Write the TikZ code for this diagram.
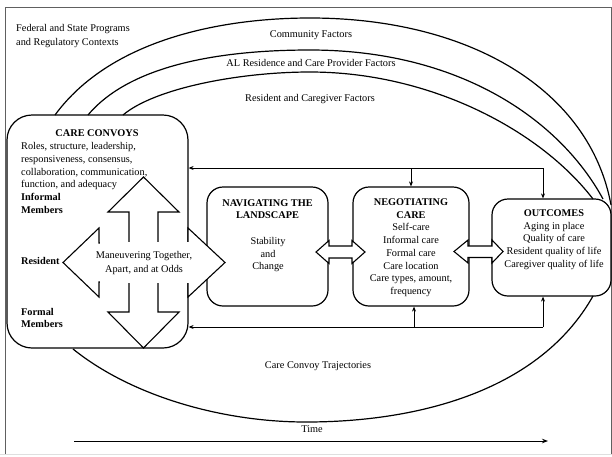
\documentclass[tikz,border=0pt]{standalone}
\usepackage{fontspec}
\setmainfont{Liberation Serif}
\usetikzlibrary{arrows.meta}
\begin{document}
\begin{tikzpicture}[x=1pt,y=-1pt,
  txt/.style={inner sep=0pt, anchor=base, font=\fontsize{10.3pt}{12.7pt}\selectfont},
  txtl/.style={txt, anchor=base west},
  hd/.style={txt, font=\fontsize{10.3pt}{12.7pt}\selectfont\bfseries},
  hdl/.style={hd, anchor=base west},
  panel/.style={draw, line width=1.2pt, rounded corners=16pt, inner sep=0pt},
  blockarrow/.style={draw, fill=white, line width=1.1pt, line join=miter},
  link/.style={line width=0.9pt, -{Stealth[length=5pt,width=4pt]}},
  arcline/.style={line width=1.2pt},
]
\useasboundingbox (0,0) rectangle (612,456);

% outer frame
\draw[gray!75!black, line width=0.8pt] (5,454) -- (5,7) -- (611,7) -- (611,454);
\draw[gray!25, line width=0.8pt] (0,454.5) -- (612,454.5);

% context labels
\node[txtl] (fed1) at (16,31.6) {Federal and State Programs};
\node[txtl] (fed2) at (16,45.6) {and Regulatory Contexts};
\node[txt] (comm) at (311,37.4) {Community Factors};
\node[txt] (alres) at (311,66.4) {AL Residence and Care Provider Factors};
\node[txt] (rescg) at (310,101.4) {Resident and Caregiver Factors};
\node[txt] (traj) at (318,368.4) {Care Convoy Trajectories};
\node[txt] (time) at (312,432.4) {Time};

% main panels
\node[panel, rounded corners=25pt, minimum width=181pt, minimum height=233pt] (cc) at (97.5,231.5) {};
\node[panel, minimum width=121pt, minimum height=119pt] (nav) at (267.5,246.5) {};
\node[panel, minimum width=116pt, minimum height=119pt] (neg) at (411,246.5) {};
\node[panel, minimum width=119pt, minimum height=97pt] (out) at (551.5,247.5) {};

% factor arcs from the care convoy panel to the outcomes panel
\coordinate (a1s) at (55,115);   \coordinate (a1e) at (611,205);
\coordinate (a2s) at (88,115);   \coordinate (a2e) at (603,199);
\coordinate (a3s) at (123,115);  \coordinate (a3e) at (593,199);
\draw[arcline] (a1s) .. controls (110,40) and (220,18) .. (310,18)
  .. controls (470,18) and (590,90) .. (a1e);
\draw[arcline] (a2s) .. controls (130,65) and (220,50) .. (310,50)
  .. controls (460,50) and (560,120) .. (a2e);
\draw[arcline] (a3s) .. controls (155,88) and (240,72) .. (310,72)
  .. controls (430,72) and (540,130) .. (a3e);

% trajectory curve
\coordinate (ts) at (73,349);
\coordinate (te) at (593,296);
\draw[arcline] (ts) .. controls (130,395) and (220,422) .. (306,422)
  .. controls (420,422) and (540,390) .. (te);

% time axis
\coordinate (t0) at (74,441);
\coordinate (t1) at (548,441);
\draw[line width=0.9pt, -{Stealth[length=6pt,width=4.5pt]}] (t0) -- (t1);

% feedback links
\coordinate (fbT) at (543,168);
\draw[link] (fbT) -- (fbT -| cc.east);
\draw[link] (fbT) -- (fbT |- out.north);
\draw[link] (fbT -| neg.north) -- (neg.north);
\coordinate (fbB) at (543,327);
\coordinate (fbBn) at (414,327);
\draw[link] (fbB) -- (fbB -| cc.east);
\draw[link] (fbB) -- (fbB |- out.south);
\draw[link] (fbBn) -- (fbBn |- neg.south);

% four-way block arrow inside the care convoy panel
\draw[blockarrow] (143.5,177) -- (179,212) -- (158,212) -- (158,243) -- (188,243)
  -- (188,228) -- (225,262.5) -- (188,297) -- (188,282) -- (158,282) -- (158,312)
  -- (179,312) -- (143.5,348) -- (108,312) -- (129,312) -- (129,282) -- (99,282)
  -- (99,297) -- (63,262.5) -- (99,228) -- (99,243) -- (129,243) -- (129,212)
  -- (108,212) -- cycle;
\node[fill=white, inner sep=0pt, minimum width=88.6pt, minimum height=40.2pt] (mvcover) at (144.3,262.5) {};
\node[txt] (mv1) at (144,258.6) {Maneuvering Together,};
\node[txt] (mv2) at (144,272.6) {Apart, and at Odds};

% double arrows between panels
\draw[blockarrow] (316,252) -- (329,240.5) -- (329,246) -- (352,246) -- (352,240.5)
  -- (365,252) -- (352,263.5) -- (352,258) -- (329,258) -- (329,263.5) -- cycle;
\draw[blockarrow] (454,251.5) -- (468,240) -- (468,246) -- (492,246) -- (492,240)
  -- (503,251.5) -- (492,263) -- (492,257.5) -- (468,257.5) -- (468,263) -- cycle;

% care convoy panel text
\node[hd] (cc-t) at (97,136.7) {CARE CONVOYS};
\node[txtl] (cc-l1) at (21,149.8) {Roles, structure, leadership,};
\node[txtl] (cc-l2) at (21,162.5) {responsiveness, consensus,};
\node[txtl] (cc-l3) at (21,175.2) {collaboration, communication,};
\node[txtl] (cc-l4) at (21,187.9) {function, and adequacy};
\node[hdl] (cc-inf1) at (21,200.6) {Informal};
\node[hdl] (cc-inf2) at (21,213.3) {Members};
\node[hdl] (cc-res) at (21,264.6) {Resident};
\node[hdl] (cc-for1) at (21,315.2) {Formal};
\node[hdl] (cc-for2) at (21,327.8) {Members};

% navigating panel text
\node[hd] (nav-t1) at (267.5,206.2) {NAVIGATING THE};
\node[hd] (nav-t2) at (267.5,218.5) {LANDSCAPE};
\node[txt] (nav-l1) at (268,244.3) {Stability};
\node[txt] (nav-l2) at (268,257.0) {and};
\node[txt] (nav-l3) at (268,269.7) {Change};

% negotiating panel text
\node[hd] (neg-t1) at (411,205.5) {NEGOTIATING};
\node[hd] (neg-t2) at (411,218.2) {CARE};
\node[txt] (neg-l1) at (411,230.9) {Self-care};
\node[txt] (neg-l2) at (411,243.6) {Informal care};
\node[txt] (neg-l3) at (411,256.3) {Formal care};
\node[txt] (neg-l4) at (411,269.0) {Care location};
\node[txt] (neg-l5) at (411,281.7) {Care types, amount,};
\node[txt] (neg-l6) at (411,294.4) {frequency};

% outcomes panel text
\node[hd] (out-t) at (554,216.5) {OUTCOMES};
\node[txt] (out-l1) at (554,229.2) {Aging in place};
\node[txt] (out-l2) at (554,241.9) {Quality of care};
\node[txt] (out-l3) at (554,254.6) {Resident quality of life};
\node[txt] (out-l4) at (554,267.3) {Caregiver quality of life};
\end{tikzpicture}
\end{document}
